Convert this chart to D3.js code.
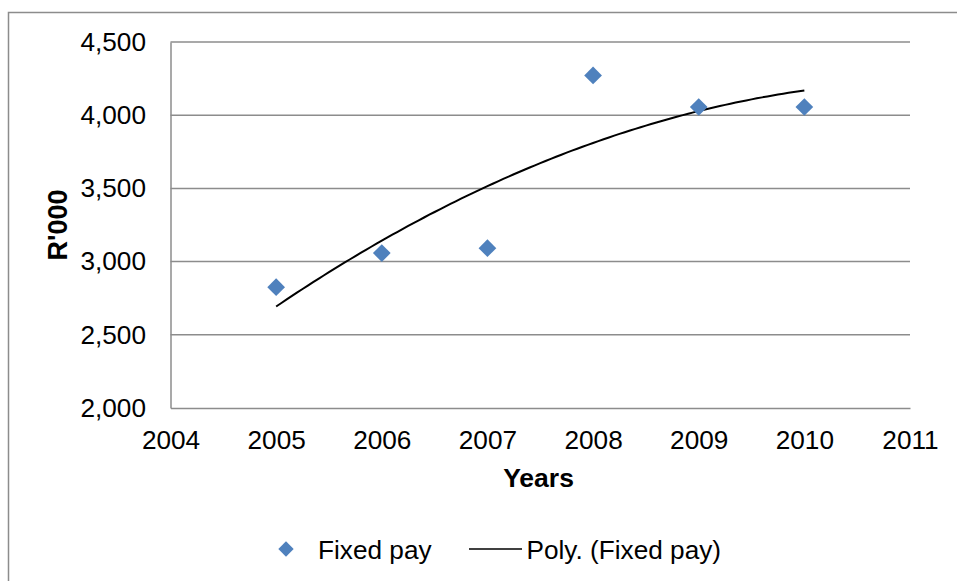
<!DOCTYPE html>
<html>
<head>
<meta charset="utf-8">
<script src="https://cdn.jsdelivr.net/npm/d3@7/dist/d3.min.js"></script>
<style>
  html, body { margin: 0; padding: 0; background: #fff; }
  svg { display: block; font-family: "Liberation Sans", Arial, sans-serif; }
</style>
</head>
<body>
<svg id="chart" width="957" height="581"></svg>
<script>
// Fixed pay per year, R'000
const years = [2005, 2006, 2007, 2008, 2009, 2010];
const fixedPay = [2825, 3058, 3092, 4272, 4056, 4056];
const yTicks = [2000, 2500, 3000, 3500, 4000, 4500];
const xTicks = [2004, 2005, 2006, 2007, 2008, 2009, 2010, 2011];
const seriesName = "Fixed pay";
const trendName = "Poly. (Fixed pay)";

const svg = d3.select("#chart");
const W = 957, H = 581;
const plot = { left: 170.5, top: 42, right: 910, bottom: 408 };
const gridColor = "#8c8c8c";
const fontFamily = "Liberation Sans, Arial, sans-serif";
const tickFont = 26.2;

// outer chart frame
svg.append("path")
  .attr("d", `M8.5,${H} V12.5 H${W}`)
  .attr("fill", "none").attr("stroke", gridColor).attr("stroke-width", 1.5);

const x = d3.scaleLinear().domain([2004, 2011]).range([plot.left, plot.right]);
const y = d3.scaleLinear().domain([2000, 4500]).range([plot.bottom, plot.top]);

// horizontal gridlines
svg.append("g").selectAll("line").data(yTicks.filter(v => v > 2000)).join("line")
  .attr("x1", plot.left).attr("x2", plot.right)
  .attr("y1", d => y(d)).attr("y2", d => y(d))
  .attr("stroke", gridColor).attr("stroke-width", 1.5);

// y axis
const yAxis = svg.append("g")
  .attr("transform", `translate(${plot.left},0)`)
  .call(d3.axisLeft(y).tickValues(yTicks).tickFormat(d3.format(",")).tickSize(0).tickPadding(24.5));
yAxis.attr("font-family", fontFamily).attr("font-size", tickFont);
yAxis.select(".domain").attr("stroke", gridColor).attr("stroke-width", 1.5);
yAxis.selectAll("text").attr("fill", "#000");

// x axis
const xAxis = svg.append("g")
  .attr("transform", `translate(0,${plot.bottom})`)
  .call(d3.axisBottom(x).tickValues(xTicks).tickFormat(d3.format("d")).tickSize(0).tickPadding(22.5));
xAxis.attr("font-family", fontFamily).attr("font-size", tickFont);
xAxis.select(".domain").attr("stroke", gridColor).attr("stroke-width", 1.5);
xAxis.selectAll("text").attr("fill", "#000");

// axis titles
svg.append("text")
  .attr("transform", `translate(67,225) rotate(-90)`)
  .attr("text-anchor", "middle")
  .attr("font-size", 27).attr("font-weight", "bold")
  .text("R'000");
svg.append("text")
  .attr("x", 538.5).attr("y", 487)
  .attr("text-anchor", "middle")
  .attr("font-size", 26.5).attr("font-weight", "bold")
  .text("Years");

// second-order least-squares trendline through the points
function quadFit(xs, ys) {
  const n = xs.length;
  const mx = d3.mean(xs);
  const t = xs.map(v => v - mx);
  let s1 = 0, s2 = 0, s3 = 0, s4 = 0, sy = 0, sty = 0, st2y = 0;
  t.forEach((v, i) => {
    s1 += v; s2 += v * v; s3 += v * v * v; s4 += v * v * v * v;
    sy += ys[i]; sty += v * ys[i]; st2y += v * v * ys[i];
  });
  // solve the 3x3 normal equations by Cramer's rule
  const A = [[n, s1, s2], [s1, s2, s3], [s2, s3, s4]];
  const b = [sy, sty, st2y];
  const det = m => m[0][0]*(m[1][1]*m[2][2]-m[1][2]*m[2][1]) - m[0][1]*(m[1][0]*m[2][2]-m[1][2]*m[2][0]) + m[0][2]*(m[1][0]*m[2][1]-m[1][1]*m[2][0]);
  const D = det(A);
  const coef = [0, 1, 2].map(k => det(A.map((row, r) => row.map((c, j) => j === k ? b[r] : c))) / D);
  return v => { const u = v - mx; return coef[0] + coef[1] * u + coef[2] * u * u; };
}
const f = quadFit(years, fixedPay);
const trendPts = d3.range(0, 101).map(i => {
  const xv = years[0] + (years[years.length - 1] - years[0]) * i / 100;
  return [xv, f(xv)];
});
svg.append("path")
  .datum(trendPts)
  .attr("d", d3.line().x(d => x(d[0])).y(d => y(d[1])))
  .attr("fill", "none").attr("stroke", "#000").attr("stroke-width", 2);

// markers
const diamond = d3.symbol().type(d3.symbolDiamond2).size(200);
svg.append("g").selectAll("path").data(years.map((yr, i) => [yr, fixedPay[i]])).join("path")
  .attr("transform", d => `translate(${x(d[0])},${y(d[1])})`)
  .attr("d", diamond)
  .attr("fill", "#4f81bd");

// legend
const lg = svg.append("g").attr("font-family", fontFamily).attr("font-size", tickFont);
lg.append("path")
  .attr("transform", "translate(286,549)")
  .attr("d", d3.symbol().type(d3.symbolDiamond2).size(150))
  .attr("fill", "#4f81bd");
lg.append("text").attr("x", 318).attr("y", 558.5).text(seriesName);
lg.append("line").attr("x1", 469).attr("x2", 522).attr("y1", 549).attr("y2", 549)
  .attr("stroke", "#000").attr("stroke-width", 1.5);
lg.append("text").attr("x", 526.5).attr("y", 558.5).text(trendName);
</script>
</body>
</html>
